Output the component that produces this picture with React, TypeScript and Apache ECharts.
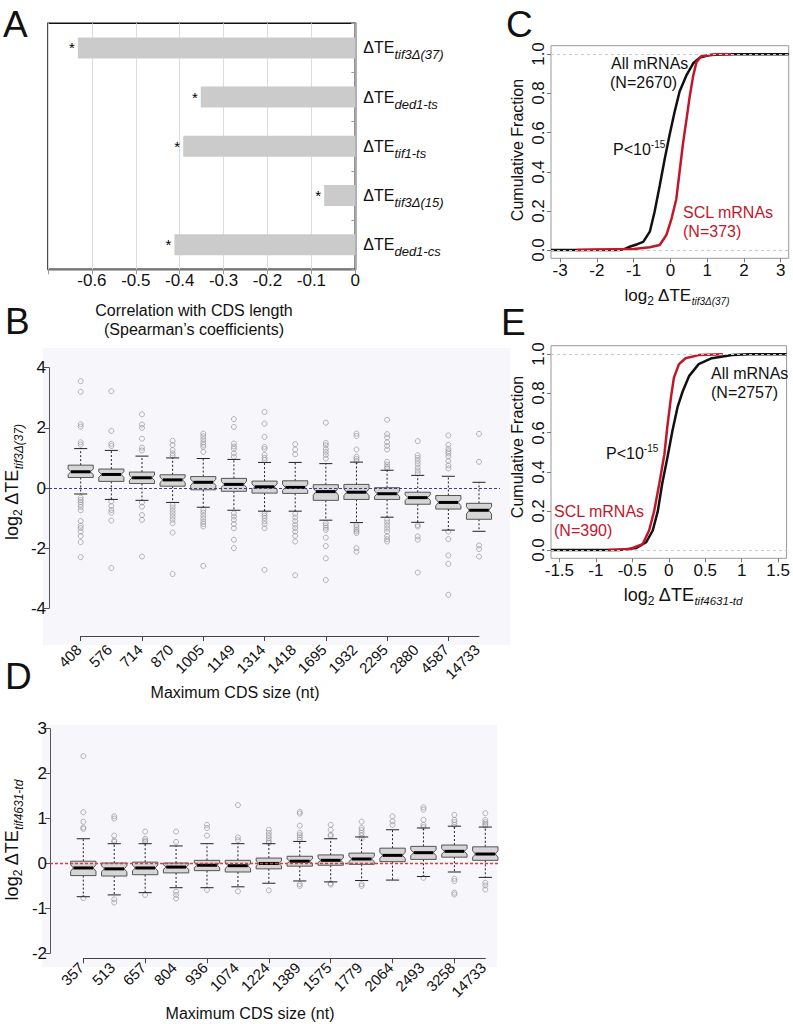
import React, { useEffect, useRef } from "react";
import * as echarts from "echarts";

const FONT = "'Liberation Sans', Arial, Helvetica, sans-serif";

// ---------- Panel A ----------
const aCategories = ["tif3Δ(37)", "ded1-ts", "tif1-ts", "tif3Δ(15)", "ded1-cs"];
const aValues = [-0.632, -0.352, -0.392, -0.071, -0.412];

// ---------- Panel B ----------
const bCategories = ["408", "576", "714", "870", "1005", "1149", "1314", "1418", "1695", "1932", "2295", "2880", "4587", "14733"];
// [lower whisker, q1, median, q3, upper whisker]
const bBoxes = [
  [-0.2, 0.35, 0.54, 0.76, 1.31],
  [-0.38, 0.22, 0.45, 0.63, 1.25],
  [-0.41, 0.15, 0.34, 0.53, 1.06],
  [-0.48, 0.06, 0.27, 0.44, 1.0],
  [-0.64, -0.06, 0.19, 0.38, 0.98],
  [-0.74, -0.11, 0.12, 0.32, 0.95],
  [-0.77, -0.17, 0.04, 0.23, 0.85],
  [-0.77, -0.18, 0.02, 0.24, 0.85],
  [-1.07, -0.41, -0.12, 0.11, 0.81],
  [-1.15, -0.38, -0.14, 0.12, 0.86],
  [-0.97, -0.38, -0.19, 0.01, 0.59],
  [-1.14, -0.54, -0.32, -0.14, 0.42],
  [-1.4, -0.7, -0.48, -0.25, 0.39],
  [-1.44, -1.04, -0.74, -0.51, 0.19],
];
const bOutliers = [
  [3.55, 3.2, 2.12, 2.04, 1.52, 1.44, -0.32, -0.4, -0.47, -0.55, -0.63, -0.74, -1.1, -1.25, -1.33, -1.45, -1.6, -1.8, -2.3],
  [3.22, 1.9, 1.47, 1.4, -0.45, -0.6, -0.73, -0.82, -1.08, -2.66],
  [2.45, 2.11, 2.0, 1.64, 1.34, 1.25, -0.48, -0.62, -0.9, -1.06, -2.28],
  [1.57, 1.43, 1.26, 1.15, 1.07, -0.56, -0.65, -0.75, -0.85, -0.95, -1.05, -1.17, -1.48, -2.86],
  [1.81, 1.72, 1.62, 1.52, 1.44, 1.37, 1.2, -0.73, -0.82, -0.92, -1.02, -1.12, -1.2, -1.28, -2.59],
  [2.29, 2.03, 1.48, 1.38, 1.3, 1.15, 1.04, -0.84, -0.95, -1.06, -1.2, -1.34, -1.72, -2.0],
  [2.53, 2.14, 1.7, 1.37, 1.3, 1.1, 1.0, 0.93, -0.84, -0.92, -1.0, -1.1, -1.2, -1.34, -2.72],
  [1.46, 1.28, 1.12, -0.86, -0.98, -1.1, -1.22, -1.33, -1.45, -1.59, -1.78, -2.9],
  [2.17, 1.5, 1.42, 1.3, 1.2, 1.1, 0.98, -1.17, -1.25, -1.32, -1.39, -1.65, -1.93, -2.34, -3.06],
  [1.81, 1.73, 1.28, 1.04, 0.97, 0.9, -1.23, -1.3, -1.38, -1.44, -1.5, -2.0, -2.12],
  [2.27, 1.79, 1.68, 1.52, 1.4, 1.28, 0.87, 0.78, 0.7, 0.65, -1.06, -1.15, -1.25, -1.35, -1.45, -1.6, -1.7, -1.78],
  [1.56, 1.09, 1.0, 0.9, 0.8, 0.68, 0.58, 0.49, -1.23, -1.28, -1.61, -1.72, -2.81],
  [1.75, 1.44, 1.3, 1.22, 1.15, 1.05, 0.9, 0.75, 0.65, -1.45, -1.7, -2.24, -2.52, -3.55],
  [1.8, 0.87, -1.91, -2.03, -2.28],
];

// ---------- Panel D ----------
const dCategories = ["357", "513", "657", "804", "936", "1074", "1224", "1389", "1575", "1779", "2064", "2493", "3258", "14733"];
const dBoxes = [
  [-0.74, -0.27, -0.1, 0.05, 0.55],
  [-0.7, -0.28, -0.12, 0.01, 0.44],
  [-0.65, -0.25, -0.1, 0.03, 0.44],
  [-0.54, -0.21, -0.08, 0.01, 0.39],
  [-0.54, -0.16, -0.04, 0.07, 0.44],
  [-0.52, -0.19, -0.05, 0.07, 0.44],
  [-0.44, -0.12, 0.0, 0.12, 0.44],
  [-0.39, -0.06, 0.05, 0.16, 0.49],
  [-0.41, -0.04, 0.07, 0.19, 0.55],
  [-0.38, -0.02, 0.1, 0.23, 0.59],
  [-0.37, 0.04, 0.18, 0.34, 0.75],
  [-0.29, 0.09, 0.24, 0.38, 0.79],
  [-0.19, 0.14, 0.27, 0.41, 0.83],
  [-0.31, 0.07, 0.21, 0.37, 0.81],
];
const dOutliers = [
  [2.39, 1.14, 0.93, 0.8, 0.77, -0.77],
  [1.05, 1.0, 0.62, 0.51, 0.48, -0.8, -0.87],
  [0.71, 0.55, 0.51, 0.48, -0.7],
  [0.71, 0.48, -0.63, -0.7, -0.78],
  [0.86, 0.79, 0.62, -0.59],
  [1.3, 0.58, 0.52, -0.62],
  [0.75, 0.68, 0.62, 0.56, 0.5, 0.46, -0.6],
  [1.15, 1.11, 0.84, 0.68, 0.63, 0.58, 0.53, -0.46, -0.5],
  [0.86, 0.75, 0.64, 0.61, -0.44, -0.47],
  [0.93, 0.79, 0.74, 0.68, 0.62, 0.56, -0.46, -0.5],
  [1.05, 0.94, 0.86],
  [1.25, 1.2, 0.97, 0.86, 0.81, -0.32],
  [1.08, 0.97, 0.92, 0.86, -0.34, -0.39, -0.65, -0.69],
  [1.12, 0.97, 0.92, 0.88, 0.84, -0.43, -0.49, -0.58],
];

// ---------- Panel C (ECDF) ----------
const cAll = [[-3.25, 0], [-1.4, 0], [-1.25, 0.005], [-1.11, 0.017], [-0.9, 0.03], [-0.74, 0.042], [-0.56, 0.094], [-0.43, 0.196], [-0.29, 0.33], [-0.15, 0.47], [-0.02, 0.59], [0.12, 0.71], [0.25, 0.81], [0.44, 0.894], [0.62, 0.954], [0.8, 0.983], [1.07, 0.996], [1.6, 1.0], [3.22, 1.0]];
const cSCL = [[-2.55, 0], [-2.0, 0.003], [-1.0, 0.005], [-0.56, 0.014], [-0.29, 0.026], [-0.11, 0.077], [0.03, 0.16], [0.16, 0.26], [0.25, 0.4], [0.34, 0.54], [0.44, 0.67], [0.53, 0.79], [0.62, 0.89], [0.71, 0.96], [0.84, 0.99], [1.25, 1.0], [1.66, 1.0]];
const cXTicks = [-3, -2, -1, 0, 1, 2, 3];

// ---------- Panel E (ECDF) ----------
const eAll = [[-1.615, 0], [-0.675, 0], [-0.45, 0.01], [-0.31, 0.04], [-0.22, 0.1], [-0.15, 0.2], [-0.09, 0.34], [-0.02, 0.47], [0.05, 0.61], [0.12, 0.73], [0.19, 0.81], [0.28, 0.89], [0.41, 0.95], [0.59, 0.98], [0.87, 0.996], [1.1, 1.0], [1.615, 1.0]];
const eSCL = [[-0.83, 0], [-0.54, 0.005], [-0.36, 0.03], [-0.27, 0.1], [-0.2, 0.2], [-0.13, 0.34], [-0.06, 0.49], [-0.02, 0.63], [0.03, 0.78], [0.07, 0.88], [0.14, 0.95], [0.23, 0.98], [0.41, 0.996], [0.74, 1.0]];
const eXTicks = [-1.5, -1, -0.5, 0, 0.5, 1, 1.5];
const cdfYTicks = [0, 0.2, 0.4, 0.6, 0.8, 1.0];
const cdfYTickLabels = ["0.0", "0.2", "0.4", "0.6", "0.8", "1.0"];

const BLACK = "#111";
const RED = "#c0182a";

// layout of the grids
const G_BCAT = { left: 80.7, top: 635, width: 398.3, height: 1 };
const G_DCAT = { left: 83.3, top: 957.3, width: 402, height: 1 };
const G_C = { left: 551, top: 45.7, width: 237.7, height: 212.6 };
const G_E = { left: 551, top: 345.7, width: 237.7, height: 212.6 };
const CDF_Y = { min: -0.042, max: 1.044 };

function boxRender(params: any, api: any) {
  const x = api.value(0);
  const lo = api.value(1), q1 = api.value(2), md = api.value(3), q3 = api.value(4), hi = api.value(5);
  const unit = api.size([1, 0])[0];
  const hw = unit * 0.41;
  const pMd = api.coord([x, md]);
  const cx = pMd[0];
  const yHi = api.coord([x, hi])[1];
  const yQ3 = api.coord([x, q3])[1];
  const yQ1 = api.coord([x, q1])[1];
  const yLo = api.coord([x, lo])[1];
  const nh = (q3 - q1) * 0.23;
  const yNu = api.coord([x, Math.min(md + nh, q3)])[1];
  const yNd = api.coord([x, Math.max(md - nh, q1)])[1];
  const ind = hw * 0.22;
  const L = cx - hw, R = cx + hw;
  const cap = hw * 0.52;
  const dash = { stroke: "#222", lineWidth: 1, lineDash: [2, 2] };
  const solid = { stroke: "#222", lineWidth: 1 };
  return {
    type: "group",
    children: [
      { type: "line", shape: { x1: cx, y1: yQ3, x2: cx, y2: yHi }, style: dash },
      { type: "line", shape: { x1: cx, y1: yQ1, x2: cx, y2: yLo }, style: dash },
      { type: "line", shape: { x1: cx - cap, y1: yHi, x2: cx + cap, y2: yHi }, style: solid },
      { type: "line", shape: { x1: cx - cap, y1: yLo, x2: cx + cap, y2: yLo }, style: solid },
      {
        type: "polygon",
        shape: {
          points: [
            [L, yQ3], [R, yQ3], [R, yNu], [R - ind, pMd[1]], [R, yNd], [R, yQ1],
            [L, yQ1], [L, yNd], [L + ind, pMd[1]], [L, yNu],
          ],
        },
        style: { fill: "#d5d5d5", stroke: "#555", lineWidth: 1 },
      },
      { type: "line", shape: { x1: L + ind, y1: pMd[1], x2: R - ind, y2: pMd[1] }, style: { stroke: "#000", lineWidth: 3 } },
    ],
  };
}

function yTitle(x: number, y: number, sub: string, subSize: number) {
  return {
    type: "text",
    x,
    y,
    rotation: Math.PI / 2,
    silent: true,
    style: {
      text: `{a|log}{s|2}{a| ΔTE}{t|${sub}}`,
      align: "center",
      verticalAlign: "middle",
      fill: BLACK,
      rich: {
        a: { fontSize: 18, fontFamily: FONT, fill: BLACK },
        s: { fontSize: 12, fontFamily: FONT, fill: BLACK, padding: [12, 0, 0, 0] },
        t: { fontSize: subSize, fontStyle: "italic", fontFamily: FONT, fill: BLACK, padding: [14, 0, 0, 0] },
      },
    },
  };
}

function xTitle(x: number, y: number, sub: string, mainSize: number, subSize: number) {
  return {
    type: "text",
    x,
    y,
    silent: true,
    style: {
      text: `{a|log}{s|2}{a| ΔTE}{t|${sub}}`,
      align: "center",
      verticalAlign: "middle",
      fill: BLACK,
      rich: {
        a: { fontSize: mainSize, fontFamily: FONT, fill: BLACK },
        s: { fontSize: 12, fontFamily: FONT, fill: BLACK, padding: [12, 0, 0, 0] },
        t: { fontSize: subSize, fontStyle: "italic", fontFamily: FONT, fill: BLACK, padding: [12, 0, 0, 0] },
      },
    },
  };
}

function plainText(x: number, y: number, text: string, size: number, color = BLACK, align = "left") {
  return {
    type: "text",
    x,
    y,
    silent: true,
    style: { text, fontSize: size, fontFamily: FONT, fill: color, align, verticalAlign: "middle" },
  };
}

function rotText(x: number, y: number, text: string, size: number, rotation: number, align: string) {
  return {
    type: "text",
    x,
    y,
    rotation,
    silent: true,
    style: { text, fontSize: size, fontFamily: FONT, fill: BLACK, align, verticalAlign: "middle" },
  };
}

// rotated rich text (same construction as the axis titles)
function rotRichText(x: number, y: number, text: string, size: number) {
  return {
    type: "text",
    x,
    y,
    rotation: Math.PI / 2,
    silent: true,
    style: {
      text: `{a|${text}}`,
      align: "center",
      verticalAlign: "middle",
      fill: BLACK,
      rich: { a: { fontSize: size, fontFamily: FONT, fill: BLACK } },
    },
  };
}

function pText(x: number, y: number) {
  return {
    type: "text",
    x,
    y,
    silent: true,
    style: {
      text: "{a|P<10}{b|-15}",
      align: "left",
      verticalAlign: "middle",
      rich: {
        a: { fontSize: 16, fontFamily: FONT, fill: BLACK },
        b: { fontSize: 10, fontFamily: FONT, fill: BLACK, padding: [0, 0, 10, 0] },
      },
    },
  };
}

function cdfAxes(gridIndex: number, xmin: number, xmax: number, xticks: number[]) {
  const x = {
    gridIndex,
    type: "value",
    min: xmin,
    max: xmax,
    axisLine: { show: false, onZero: false },
    splitLine: { show: false },
    axisTick: { show: true, customValues: xticks, length: 4, lineStyle: { color: "#777" } },
    axisLabel: { customValues: xticks, fontSize: 17, fontFamily: FONT, color: BLACK, margin: 4, formatter: (v: number) => String(v) },
  };
  const y = {
    gridIndex,
    type: "value",
    min: CDF_Y.min,
    max: CDF_Y.max,
    axisLine: { show: false, onZero: false },
    splitLine: { show: false },
    axisTick: { show: true, customValues: cdfYTicks, length: 4, lineStyle: { color: "#777" } },
    axisLabel: { show: false },
  };
  return { x, y };
}

function cdfGuide() {
  return {
    silent: true,
    symbol: ["none", "none"],
    label: { show: false },
    lineStyle: { color: "#c8c8c8", type: [3, 3], width: 1 },
    data: [{ yAxis: 0 }, { yAxis: 1 }],
  };
}

function catAxis(gridIndex: number, data: string[]) {
  return {
    gridIndex,
    type: "category",
    data,
    boundaryGap: false,
    axisLine: { show: true, onZero: false, lineStyle: { color: "#444", width: 1 } },
    axisTick: { show: true, length: 5, lineStyle: { color: "#444" } },
    axisLabel: { show: false },
  };
}

// R-style rotated tick labels (texts only), following the grid layouts above
function rotatedCatLabels(cats: string[], g: { left: number; width: number }, y: number) {
  const step = g.width / (cats.length - 1);
  return cats.map((c, i) => rotText(g.left + i * step - 2, y, c, 15, Math.PI / 4, "right"));
}
function rotatedCdfYLabels(g: { top: number; height: number }) {
  return cdfYTicks.map((v, i) =>
    rotRichText(538, Math.round(g.top + ((CDF_Y.max - v) / (CDF_Y.max - CDF_Y.min)) * g.height), cdfYTickLabels[i], 17)
  );
}

export default function App() {
  const ref = useRef<HTMLDivElement>(null);
  useEffect(() => {
    const chart = echarts.init(ref.current!, null, { renderer: "svg", width: 793, height: 1024 });

    // Box-panel horizontal axis extents (position 1..n of each group)
    const bX = { min: -0.0346, max: 14.685 };
    const dX = { min: -0.077, max: 14.475 };
    const C = cdfAxes(5, -3.25, 3.22, cXTicks);
    const E = cdfAxes(6, -1.615, 1.615, eXTicks);

    const graphics: any[] = [
      { type: "rect", z: -10, silent: true, shape: { x: 43, y: 348, width: 467, height: 297 }, style: { fill: "#f7f7fb" } },
      { type: "rect", z: -10, silent: true, shape: { x: 42, y: 725, width: 455, height: 242 }, style: { fill: "#f7f7fb" } },
      rotText(517, 150, "Cumulative Fraction", 16, Math.PI / 2, "center"),
      rotText(517, 447, "Cumulative Fraction", 16, Math.PI / 2, "center"),
      ...rotatedCdfYLabels(G_C),
      ...rotatedCdfYLabels(G_E),
      plainText(3, 24, "A", 37),
      plainText(5, 321, "B", 37),
      plainText(506, 24, "C", 37),
      plainText(5, 676, "D", 37),
      plainText(501, 322, "E", 37),
      {
        type: "text",
        x: 194,
        y: 320,
        silent: true,
        style: {
          text: "Correlation with CDS length\n(Spearman’s coefficients)",
          fontSize: 16,
          fontFamily: FONT,
          fill: BLACK,
          align: "center",
          verticalAlign: "middle",
          lineHeight: 19,
        },
      },
      yTitle(12, 482, "tif3Δ(37)", 12),
      plainText(235, 692, "Maximum CDS size (nt)", 16, BLACK, "center"),
      yTitle(12, 840, "tif4631-td", 12),
      plainText(250, 1013, "Maximum CDS size (nt)", 16, BLACK, "center"),
      xTitle(677, 295, "tif3Δ(37)", 17, 10),
      xTitle(683, 595, "tif4631-td", 18, 11.5),
      plainText(611, 63, "All mRNAs", 16),
      plainText(610, 82, "(N=2670)", 16),
      pText(613, 149),
      plainText(683, 212, "SCL mRNAs", 16, RED),
      plainText(683, 231, "(N=373)", 16, RED),
      plainText(711, 373, "All mRNAs", 16),
      plainText(711, 392, "(N=2757)", 16),
      pText(606, 453),
      plainText(554, 511, "SCL mRNAs", 16, RED),
      plainText(554, 530, "(N=390)", 16, RED),
      ...rotatedCatLabels(bCategories, G_BCAT, 647),
      ...rotatedCatLabels(dCategories, G_DCAT, 965),
    ];

    const option: any = {
      animation: false,
      backgroundColor: "#fff",
      textStyle: { fontFamily: FONT },
      grid: [
        { left: 48, top: 23.3, width: 307.3, height: 246, show: true, borderColor: "#111", borderWidth: 1.5, backgroundColor: "transparent" },
        { left: 49, top: 367.7, width: 451, height: 240.6 },
        G_BCAT,
        { left: 50, top: 728.7, width: 450, height: 224.6 },
        G_DCAT,
        { ...G_C, show: true, borderColor: "#999", borderWidth: 1, backgroundColor: "transparent" },
        { ...G_E, show: true, borderColor: "#999", borderWidth: 1, backgroundColor: "transparent" },
      ],
      xAxis: [
        {
          gridIndex: 0,
          type: "value",
          min: -0.7,
          max: 0,
          interval: 0.1,
          axisLine: { show: true, onZero: false, lineStyle: { color: "#999", width: 1.5 } },
          axisTick: { show: true, length: 5, lineStyle: { color: "#999" } },
          splitLine: { show: true, lineStyle: { color: "#dcdcdc", width: 1 } },
          axisLabel: {
            fontSize: 17,
            fontFamily: FONT,
            color: BLACK,
            margin: 3,
            formatter: (v: number) => (Math.abs(v + 0.7) < 1e-6 ? "" : String(Math.round(v * 10) / 10)),
          },
        },
        { gridIndex: 1, type: "value", min: bX.min, max: bX.max, show: false },
        catAxis(2, bCategories),
        { gridIndex: 3, type: "value", min: dX.min, max: dX.max, show: false },
        catAxis(4, dCategories),
        C.x,
        E.x,
      ],
      yAxis: [
        {
          gridIndex: 0,
          type: "category",
          data: aCategories,
          inverse: true,
          position: "right",
          axisLine: { show: true, onZero: false, lineStyle: { color: "#999", width: 1.5 } },
          axisTick: { show: true, inside: true, length: 4, lineStyle: { color: "#999" } },
          axisLabel: {
            margin: 8,
            formatter: (v: string) => `{a|ΔTE}{b|${v}}`,
            rich: {
              a: { fontSize: 16, fontFamily: FONT, color: BLACK },
              b: { fontSize: 13, fontStyle: "italic", fontFamily: FONT, color: BLACK, padding: [14, 0, 0, 0] },
            },
          },
        },
        {
          gridIndex: 1,
          type: "value",
          min: -4,
          max: 4,
          interval: 2,
          axisLine: { show: true, onZero: false, lineStyle: { color: "#555" } },
          axisTick: { show: true, length: 5, lineStyle: { color: "#555" } },
          splitLine: { show: false },
          axisLabel: { fontSize: 17, fontFamily: FONT, color: BLACK, margin: 3 },
        },
        { gridIndex: 2, type: "value", show: false },
        {
          gridIndex: 3,
          type: "value",
          min: -2,
          max: 3,
          interval: 1,
          axisLine: { show: true, onZero: false, lineStyle: { color: "#555" } },
          axisTick: { show: true, length: 5, lineStyle: { color: "#555" } },
          splitLine: { show: false },
          axisLabel: { fontSize: 17, fontFamily: FONT, color: BLACK, margin: 3 },
        },
        { gridIndex: 4, type: "value", show: false },
        C.y,
        E.y,
      ],
      series: [
        {
          type: "bar",
          xAxisIndex: 0,
          yAxisIndex: 0,
          data: aValues,
          barWidth: 21,
          itemStyle: { color: "#cbcbcb" },
          label: { show: true, position: "left", formatter: "*", fontSize: 15, fontFamily: FONT, color: "#000", distance: 3 },
        },
        {
          type: "custom",
          xAxisIndex: 1,
          yAxisIndex: 1,
          renderItem: boxRender,
          encode: { x: 0, y: [1, 2, 3, 4, 5] },
          data: bBoxes.map((b, i) => [i + 1, ...b]),
          z: 3,
        },
        {
          type: "scatter",
          xAxisIndex: 1,
          yAxisIndex: 1,
          symbol: "circle",
          symbolSize: 5,
          itemStyle: { color: "rgba(0,0,0,0)", borderColor: "#8a8a8a", borderWidth: 0.8 },
          data: bOutliers.flatMap((arr, i) => arr.map((v) => [i + 1, v])),
          markLine: {
            silent: true,
            symbol: ["none", "none"],
            label: { show: false },
            lineStyle: { color: "#3d3d95", type: [3, 2], width: 1 },
            data: [{ yAxis: 0 }],
          },
          z: 2,
        },
        {
          type: "custom",
          xAxisIndex: 3,
          yAxisIndex: 3,
          renderItem: boxRender,
          encode: { x: 0, y: [1, 2, 3, 4, 5] },
          data: dBoxes.map((b, i) => [i + 1, ...b]),
          z: 3,
        },
        {
          type: "scatter",
          xAxisIndex: 3,
          yAxisIndex: 3,
          symbol: "circle",
          symbolSize: 5,
          itemStyle: { color: "rgba(0,0,0,0)", borderColor: "#8a8a8a", borderWidth: 0.8 },
          data: dOutliers.flatMap((arr, i) => arr.map((v) => [i + 1, v])),
          z: 2,
        },
        {
          type: "line",
          xAxisIndex: 3,
          yAxisIndex: 3,
          data: [],
          symbol: "none",
          markLine: {
            silent: true,
            symbol: ["none", "none"],
            label: { show: false },
            lineStyle: { color: "#e23a3a", type: [3, 2], width: 1.3, opacity: 1 },
            data: [{ yAxis: 0 }],
          },
          z: 4,
        },
        {
          type: "line",
          xAxisIndex: 5,
          yAxisIndex: 5,
          data: cAll,
          symbol: "none",
          lineStyle: { color: BLACK, width: 2.5 },
          markLine: cdfGuide(),
        },
        { type: "line", xAxisIndex: 5, yAxisIndex: 5, data: cSCL, symbol: "none", lineStyle: { color: RED, width: 2.5 } },
        {
          type: "line",
          xAxisIndex: 6,
          yAxisIndex: 6,
          data: eAll,
          symbol: "none",
          lineStyle: { color: BLACK, width: 2.5 },
          markLine: cdfGuide(),
        },
        { type: "line", xAxisIndex: 6, yAxisIndex: 6, data: eSCL, symbol: "none", lineStyle: { color: RED, width: 2.5 } },
      ],
      graphic: { elements: graphics },
    };
    chart.setOption(option);

    return () => chart.dispose();
  }, []);
  return <div ref={ref} style={{ position: "absolute", left: 0, top: 0, width: 793, height: 1024 }} />;
}
